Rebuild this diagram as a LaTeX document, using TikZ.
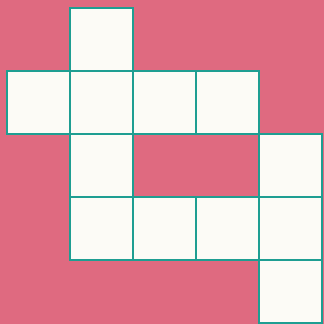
\documentclass[tikz,border=0pt]{standalone}
\usepackage{tikz}
\definecolor{ppink}{HTML}{DF6A80}
\definecolor{dteal}{HTML}{1E9E92}
\definecolor{pwhite}{HTML}{FCFBF6}
\tikzset{
  sq/.style={draw=dteal,fill=pwhite,line width=1.1pt,minimum size=1cm,inner sep=0pt,
             outer sep=0pt,anchor=north west},
}
\begin{document}
\begin{tikzpicture}
% background
\fill[ppink] (-0.111,0.127) rectangle (5.032,-5.016);
\useasboundingbox (-0.111,0.127) rectangle (5.032,-5.016);
% net of squares
\foreach \c/\r in {1/0,0/1,1/1,2/1,3/1,1/2,4/2,1/3,2/3,3/3,4/3,4/4}
  \node[sq] (s\c\r) at (\c,-\r) {};
\end{tikzpicture}
\end{document}
